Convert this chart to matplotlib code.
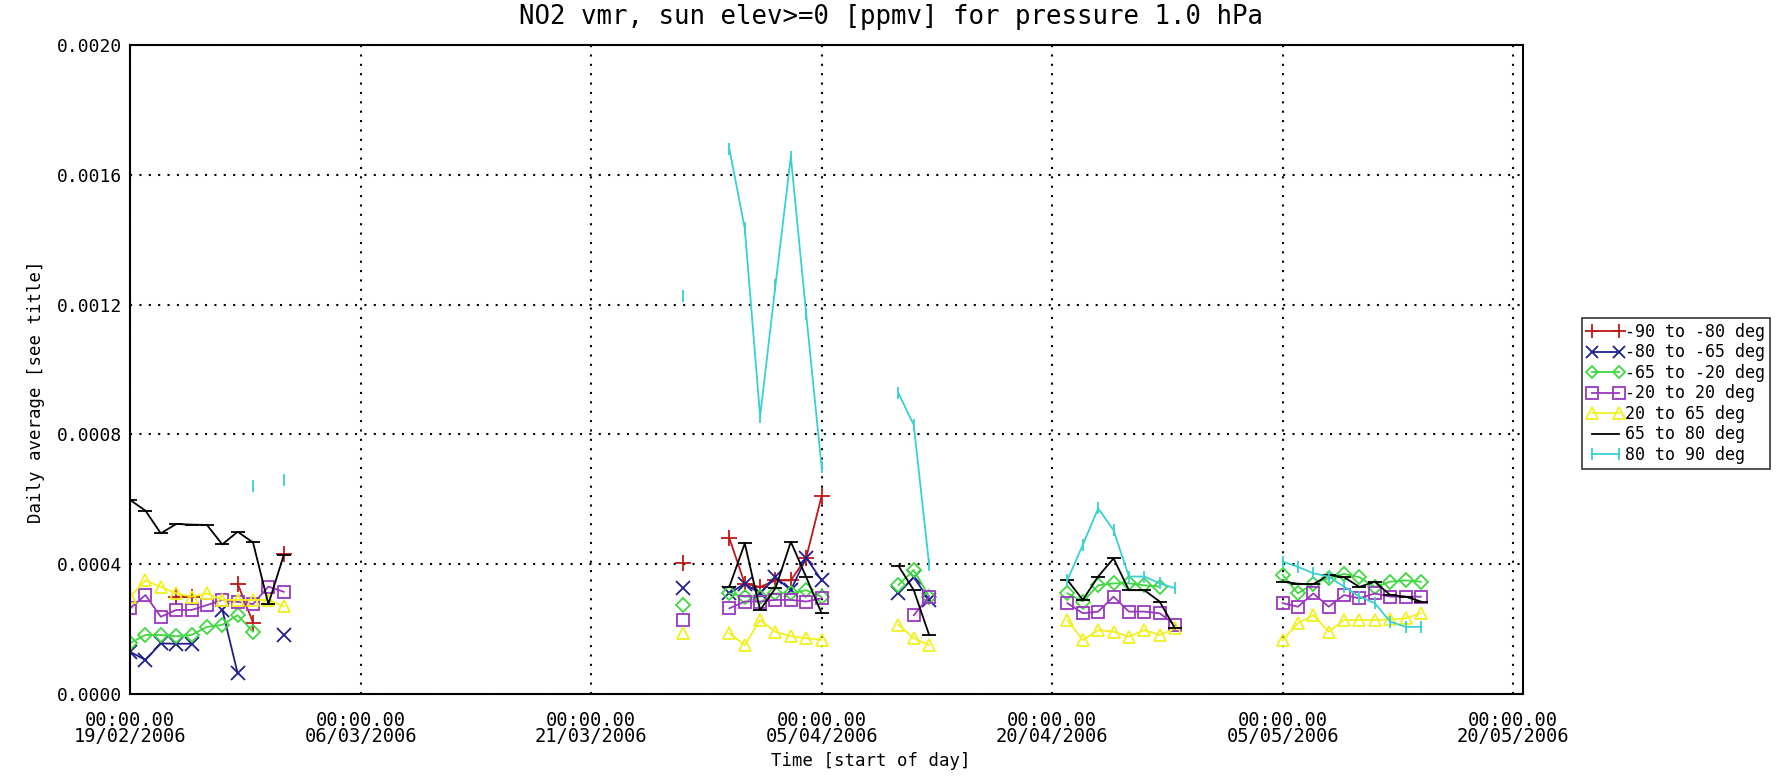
import numpy as np
import matplotlib
matplotlib.use('Agg')
import matplotlib.pyplot as plt
from matplotlib.lines import Line2D

# days since 19/02/2006, daily averages of NO2 vmr [ppmv]
red_days = [3, 4, 7, 8, 10, 36, 39, 40, 41, 42, 43, 44, 45]
red_vals = [0.00030, 0.00030, 0.00034, 0.00022, 0.00043, 0.000403,
            0.00048, 0.00034, 0.00033, 0.00035, 0.00035, 0.00042, 0.00061]

blue_days = [0, 1, 2, 3, 4, 6, 7, 10, 36, 39, 40, 41, 42, 43, 44, 45, 50, 51, 52]
blue_vals = [0.00013, 0.000105, 0.000156, 0.000155, 0.000155, 0.00026, 0.000064, 0.000182,
             0.000326, 0.00031, 0.00034, 0.00031, 0.00036, 0.00032, 0.00042, 0.00035,
             0.00031, 0.00036, 0.00029]

green_days = [0, 1, 2, 3, 4, 5, 6, 7, 8, 36, 39, 40, 41, 42, 43, 44, 45, 50, 51, 52,
              61, 62, 63, 64, 65, 66, 67, 75, 76, 77, 78, 79, 80, 81, 82, 83, 84]
green_vals = [0.000157, 0.000182, 0.000182, 0.000178, 0.000182, 0.000207, 0.000213, 0.000243, 0.000192,
              0.000274, 0.00031, 0.00030, 0.00030, 0.00031, 0.00031, 0.00032, 0.00030,
              0.000336, 0.000382, 0.00030,
              0.00031, 0.000285, 0.000335, 0.000341, 0.000341, 0.000335, 0.000331,
              0.000367, 0.00031, 0.00034, 0.000357, 0.00037, 0.00036, 0.00033, 0.000346, 0.00035, 0.000346]

purple_days = [0, 1, 2, 3, 4, 5, 6, 7, 8, 9, 10, 36, 39, 40, 41, 42, 43, 44, 45, 51, 52,
               61, 62, 63, 64, 65, 66, 67, 68, 75, 76, 77, 78, 79, 80, 81, 82, 83, 84]
purple_vals = [0.000264, 0.000305, 0.000238, 0.000259, 0.000259, 0.000274, 0.00029, 0.000284, 0.000277, 0.000331, 0.000315,
               0.000228, 0.000264, 0.000285, 0.000285, 0.00029, 0.00029, 0.000285, 0.000295, 0.000243, 0.00030,
               0.00028, 0.000249, 0.000254, 0.00030, 0.000254, 0.000254, 0.000249, 0.000213,
               0.00028, 0.000269, 0.00031, 0.000269, 0.000305, 0.000295, 0.00031, 0.00030, 0.00030, 0.00030]

yellow_days = [0, 1, 2, 3, 4, 5, 6, 7, 8, 9, 10, 36, 39, 40, 41, 42, 43, 44, 45, 50, 51, 52,
               61, 62, 63, 64, 65, 66, 67, 68, 75, 76, 77, 78, 79, 80, 81, 82, 83, 84]
yellow_vals = [0.00030, 0.00035, 0.00033, 0.00031, 0.00030, 0.00031, 0.00029, 0.00029, 0.00029, 0.00029, 0.00027,
               0.000187, 0.000187, 0.000151, 0.000228, 0.000192, 0.000178, 0.000172, 0.000167,
               0.000213, 0.000172, 0.000151,
               0.000228, 0.000166, 0.000197, 0.000192, 0.000177, 0.000197, 0.000182, 0.000202,
               0.000166, 0.000218, 0.000243, 0.000192, 0.000228, 0.000228, 0.000228, 0.00023, 0.000233, 0.000249]

black_days = [0, 1, 2, 3, 4, 5, 6, 7, 8, 9, 10, 39, 40, 41, 42, 43, 44, 45, 50, 51, 52,
              61, 62, 63, 64, 65, 66, 67, 68, 75, 76, 77, 78, 79, 80, 81, 82, 83, 84]
black_vals = [0.000598, 0.000565, 0.000495, 0.000524, 0.000522, 0.000521, 0.000461, 0.00050, 0.000467, 0.000277, 0.000428,
              0.000331, 0.000464, 0.000259, 0.000326, 0.000469, 0.00036, 0.000249,
              0.000395, 0.00032, 0.000182,
              0.000351, 0.00029, 0.000362, 0.000418, 0.00032, 0.00032, 0.000285, 0.000202,
              0.000346, 0.00034, 0.000338, 0.000367, 0.00036, 0.00033, 0.000346, 0.000305, 0.00030, 0.000285]

cyan_days = [8, 10, 36, 39, 40, 41, 42, 43, 44, 45, 50, 51, 52,
             61, 62, 63, 64, 65, 66, 67, 68, 75, 76, 77, 78, 79, 80, 81, 82, 83, 84]
cyan_vals = [0.00064, 0.00066, 0.001225, 0.00168, 0.001435, 0.000855, 0.00126, 0.001656, 0.00117, 0.00070,
             0.000927, 0.000829, 0.000398,
             0.000351, 0.00046, 0.000572, 0.000505, 0.000362, 0.000362, 0.000341, 0.000326,
             0.000408, 0.000392, 0.000372, 0.000362, 0.000331, 0.00030, 0.00028, 0.000223, 0.000207, 0.000207]

labels = ['-90 to -80 deg', '-80 to -65 deg', '-65 to -20 deg', '-20 to 20 deg',
          '20 to 65 deg', '65 to 80 deg', '80 to 90 deg']
tick_dates = ['19/02/2006', '06/03/2006', '21/03/2006', '05/04/2006',
              '20/04/2006', '05/05/2006', '20/05/2006']
tick_days = [0, 15, 30, 45, 60, 75, 90]

FONT = 'DejaVu Sans Mono'
plt.rcParams['font.family'] = FONT


def segments(days, vals):
    # break the line wherever a day is missing
    d = np.array(days, dtype=float)
    v = np.array(vals, dtype=float)
    xs, ys = [d[0]], [v[0]]
    for i in range(1, len(d)):
        if d[i] - d[i - 1] > 1:
            xs.append(np.nan)
            ys.append(np.nan)
        xs.append(d[i])
        ys.append(v[i])
    return np.array(xs), np.array(ys)


fig = plt.figure(figsize=(17.82, 7.82), dpi=100)
ax = fig.add_axes([0.0730, 0.1125, 0.7817, 0.8300])

series = [
    (red_days, red_vals, '#c01818', '+', 11, 'none'),
    (blue_days, blue_vals, '#20208c', 'x', 10, 'none'),
    (green_days, green_vals, '#40d840', 'D', 7, 'none'),
    (purple_days, purple_vals, '#9a38c0', 's', 9, 'none'),
    (yellow_days, yellow_vals, '#f2f020', '^', 9, 'none'),
    (black_days, black_vals, 'black', '_', 10, 'none'),
    (cyan_days, cyan_vals, '#38d0d0', '|', 9, 'none'),
]

handles = []
for (d, v, c, m, ms, fc), lab in zip(series, labels):
    xs, ys = segments(d, v)
    ax.plot(xs, ys, color=c, lw=1.3, marker=m, ms=ms, mfc=fc, mec=c, mew=1.3)
    if c == 'black':
        handles.append(Line2D([], [], color=c, lw=1.3))
    else:
        handles.append(Line2D([], [], color=c, lw=1.3, marker=m, ms=ms * 0.9, mfc=fc, mec=c, mew=1.3))

ax.set_xlim(0, 90.65)
ax.set_ylim(0, 0.002)
ax.set_yticks(np.arange(0, 0.00201, 0.0004))
ax.set_yticklabels(['%.4f' % t for t in np.arange(0, 0.00201, 0.0004)], fontsize=13)
ax.set_xticks(tick_days)
ax.set_xticklabels(['00:00.00\n' + s for s in tick_dates], fontsize=13.5, linespacing=0.85)
ax.tick_params(axis='both', length=0)
ax.tick_params(axis='x', pad=12)
ax.tick_params(axis='y', pad=6)
ax.grid(True, color='black', linestyle=(0, (1, 3.5)), lw=1.5)
for s in ax.spines.values():
    s.set_linewidth(1.5)

fig.text(0.5, 0.978, 'NO2 vmr, sun elev>=0 [ppmv] for pressure 1.0 hPa', fontsize=18.5,
         ha='center', va='center')
ax.set_xlabel('Time [start of day]', fontsize=12.5)
ax.xaxis.set_label_coords(0.532, -0.09)
ax.set_ylabel('Daily average [see title]', fontsize=12.5)
ax.yaxis.set_label_coords(-0.061, 0.466)

leg = fig.legend(handles, labels, loc='upper left', bbox_to_anchor=(0.8878, 0.5935),
                 numpoints=2, handlelength=2.2, handletextpad=0.1, labelspacing=0.15,
                 borderpad=0.3, borderaxespad=0, fancybox=False, prop={'family': FONT, 'size': 12})
leg.get_frame().set_edgecolor('black')
leg.get_frame().set_linewidth(1.2)

fig.savefig('out.png', dpi=100)
